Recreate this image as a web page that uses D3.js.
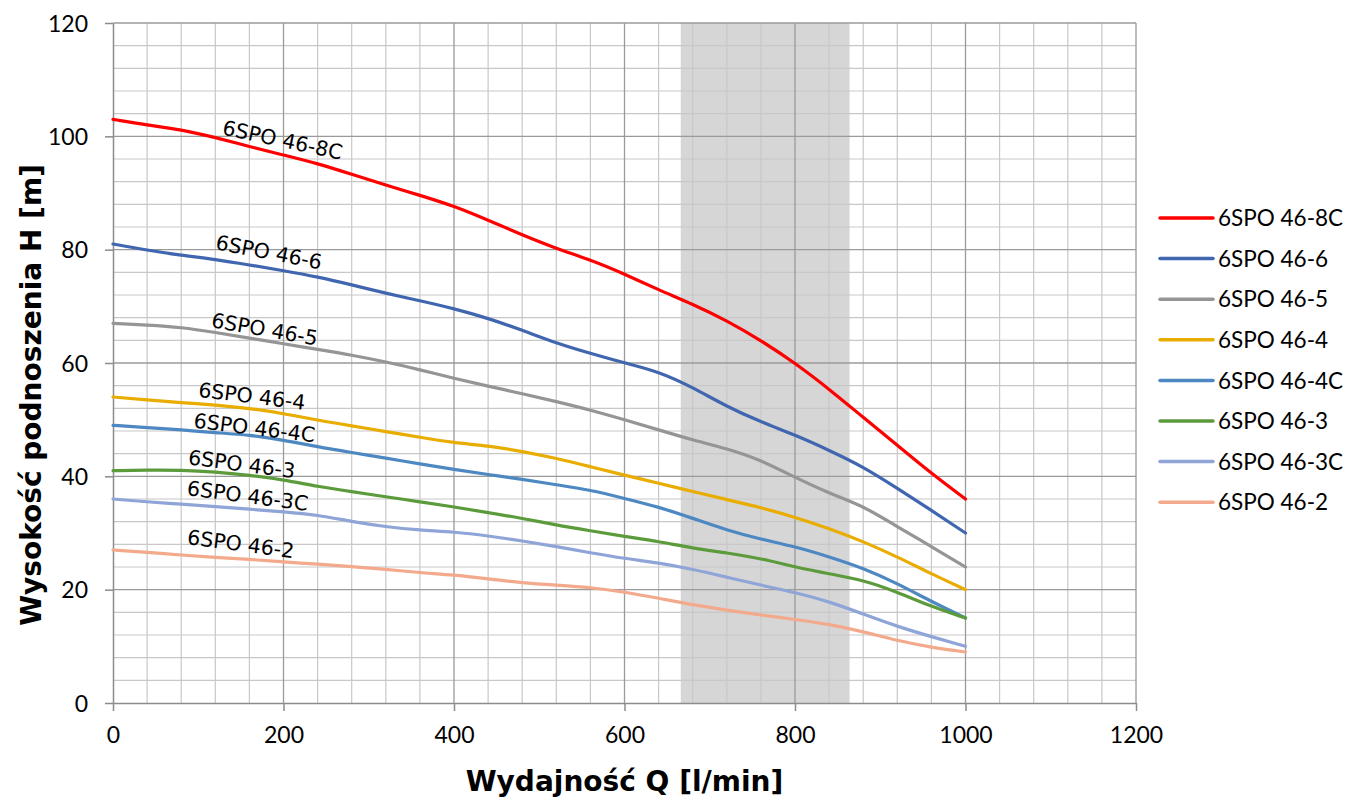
<!DOCTYPE html>
<html>
<head>
<meta charset="utf-8">
<script src="https://cdn.jsdelivr.net/npm/d3@7"></script>
<style>
  body { margin: 0; background: #fff; }
  .tick-label { font-family: Lato, "Liberation Sans", sans-serif; font-size: 23px; fill: #000; }
  .legend text { font-family: Lato, "Liberation Sans", sans-serif; font-size: 22.5px; fill: #000; }
  .curve-label { font-family: "DejaVu Sans", sans-serif; font-size: 20.5px; fill: #000; }
  .axis-title { font-family: "DejaVu Sans", sans-serif; font-weight: bold; font-size: 28px; fill: #000; }
</style>
</head>
<body>
<svg id="chart" width="1347" height="799"></svg>
<script>
// flow points, l/min
var flow = [0, 40, 80, 120, 160, 200, 240, 280, 320, 360, 400, 440, 480,
            520, 560, 600, 640, 680, 720, 760, 800, 840, 880, 920, 960, 1000];

// head values H [m] for each pump, same order as flow
var h_8C = [103, 102, 101.2, 99.8, 98.2, 96.7, 95.2, 93.3, 91.4, 89.6, 87.7, 85.2, 82.6,
            80.2, 78.2, 75.7, 72.9, 70.4, 67.5, 64, 60, 55.4, 50.4, 45.5, 40.5, 36];
var h_6  = [81, 79.9, 79, 78.3, 77.3, 76.3, 75.2, 73.8, 72.3, 71, 69.6, 67.9, 65.8,
            63.5, 61.7, 60, 58.5, 55.7, 52.3, 49.6, 47.3, 44.6, 41.7, 37.9, 34, 30];
var h_5  = [67, 66.7, 66.3, 65.4, 64.4, 63.4, 62.4, 61.4, 60.2, 58.8, 57.3, 55.9, 54.6,
            53.2, 51.7, 50, 48.2, 46.4, 44.9, 42.9, 39.8, 37, 34.8, 31.1, 27.6, 24];
var h_4  = [54, 53.5, 53, 52.6, 52, 51.1, 49.9, 48.9, 47.9, 46.9, 45.9, 45.4, 44.4,
            43.2, 41.7, 40.2, 38.8, 37.3, 35.9, 34.5, 32.8, 30.8, 28.5, 25.8, 22.8, 20];
var h_4C = [49, 48.6, 48.2, 47.7, 47.3, 46.4, 45.2, 44.2, 43.2, 42.2, 41.2, 40.3, 39.5,
            38.5, 37.6, 36.1, 34.6, 32.6, 30.5, 28.9, 27.6, 25.8, 23.8, 21.1, 17.9, 15];
var h_3  = [41, 41.1, 41.1, 40.8, 40.2, 39.4, 38.2, 37.3, 36.4, 35.5, 34.6, 33.6, 32.6,
            31.4, 30.4, 29.4, 28.5, 27.3, 26.5, 25.5, 24, 22.8, 21.7, 19.6, 17, 15];
var h_3C = [36, 35.5, 35.1, 34.65, 34.2, 33.75, 33.2, 32, 31.1, 30.5, 30.2, 29.5, 28.6,
            27.6, 26.5, 25.5, 24.75, 23.6, 22.2, 20.8, 19.5, 17.9, 15.7, 13.5, 11.7, 10];
var h_2  = [27, 26.6, 26.1, 25.7, 25.35, 24.9, 24.5, 24.05, 23.6, 23, 22.6, 21.9, 21.2,
            20.8, 20.4, 19.6, 18.5, 17.3, 16.4, 15.5, 14.75, 13.9, 12.6, 11, 9.8, 9];

var names  = ["6SPO 46-8C", "6SPO 46-6", "6SPO 46-5", "6SPO 46-4",
              "6SPO 46-4C", "6SPO 46-3", "6SPO 46-3C", "6SPO 46-2"];
var heads  = [h_8C, h_6, h_5, h_4, h_4C, h_3, h_3C, h_2];
var colors = ["#ff0000", "#4166b0", "#959595", "#e8ad00",
              "#4d88c2", "#5c9b3b", "#8fa5d8", "#f3a98b"];

// in-chart labels: anchor point (flow, head) and tilt in degrees
var labelQ     = [199, 183, 178, 163, 166, 151, 158, 150];
var labelH     = [99.4, 79.6, 66, 54.2, 48.6, 42.2, 36.6, 28.1];
var labelAngle = [12, 11, 10, 7, 7, 7.5, 7.5, 7.5];

// shaded working range, l/min
var bandRange = [666, 864];

var xTicks = [0, 200, 400, 600, 800, 1000, 1200];
var yTicks = [0, 20, 40, 60, 80, 100, 120];

var margin = {top: 23, left: 113, right: 211, bottom: 96};
var width = 1347 - margin.left - margin.right;
var height = 799 - margin.top - margin.bottom;

var svg = d3.select("#chart");
var g = svg.append("g")
    .attr("transform", "translate(" + margin.left + "," + margin.top + ")");

var x = d3.scaleLinear().domain([0, 1200]).range([0, width]);
var y = d3.scaleLinear().domain([0, 120]).range([height, 0]);

// gray band
g.append("rect")
    .attr("x", x(bandRange[0]))
    .attr("y", 0)
    .attr("width", x(bandRange[1]) - x(bandRange[0]))
    .attr("height", height)
    .attr("fill", "#d6d6d6");

// minor grid: every 40 l/min and every 4 m
var minorX = d3.range(40, 1200, 40).filter(function(d) { return d % 200 != 0; });
var minorY = d3.range(4, 120, 4).filter(function(d) { return d % 20 != 0; });

g.append("g").selectAll("line")
    .data(minorX)
    .enter().append("line")
    .attr("x1", function(d) { return x(d); })
    .attr("x2", function(d) { return x(d); })
    .attr("y1", 0).attr("y2", height)
    .attr("stroke", "#c8c8c8")
    .attr("stroke-width", 1.2);

g.append("g").selectAll("line")
    .data(minorY)
    .enter().append("line")
    .attr("y1", function(d) { return y(d); })
    .attr("y2", function(d) { return y(d); })
    .attr("x1", 0).attr("x2", width)
    .attr("stroke", "#c8c8c8")
    .attr("stroke-width", 1.2);

// major grid
g.append("g").selectAll("line")
    .data(xTicks.slice(1))
    .enter().append("line")
    .attr("x1", function(d) { return x(d); })
    .attr("x2", function(d) { return x(d); })
    .attr("y1", 0).attr("y2", height)
    .attr("stroke", "#9a9a9a")
    .attr("stroke-width", 1.3);

g.append("g").selectAll("line")
    .data(yTicks.slice(1))
    .enter().append("line")
    .attr("y1", function(d) { return y(d); })
    .attr("y2", function(d) { return y(d); })
    .attr("x1", 0).attr("x2", width)
    .attr("stroke", "#9a9a9a")
    .attr("stroke-width", 1.3);

// axes
var xAxis = g.append("g")
    .attr("transform", "translate(0," + height + ")")
    .call(d3.axisBottom(x).tickValues(xTicks).tickFormat(d3.format("d"))
      .tickSize(8).tickPadding(10).tickSizeOuter(0));
var yAxis = g.append("g")
    .call(d3.axisLeft(y).tickValues(yTicks).tickFormat(d3.format("d"))
      .tickSize(8).tickPadding(17).tickSizeOuter(0));

[xAxis, yAxis].forEach(function(a) {
  a.select(".domain").attr("stroke", "#8c8c8c").attr("stroke-width", 1.5);
  a.selectAll(".tick line").attr("stroke", "#8c8c8c").attr("stroke-width", 1.5);
  a.selectAll(".tick text").attr("class", "tick-label");
  a.attr("font-size", null).attr("font-family", null);
});
xAxis.selectAll(".tick text").attr("dy", "0.95em");
yAxis.selectAll(".tick text").attr("dy", "0.36em");

// curves (smoothed like the spreadsheet lines)
var line = d3.line()
    .curve(d3.curveBasis)
    .x(function(d) { return x(d[0]); })
    .y(function(d) { return y(d[1]); });

heads.forEach(function(h, i) {
  g.append("path")
    .datum(flow.map(function(q, j) { return [q, h[j]]; }))
    .attr("fill", "none")
    .attr("stroke", colors[i])
    .attr("stroke-width", 3.2)
    .attr("stroke-linejoin", "round")
    .attr("stroke-linecap", "round")
    .attr("d", line);
});

// curve labels
names.forEach(function(n, i) {
  g.append("text")
    .attr("class", "curve-label")
    .attr("text-anchor", "middle")
    .attr("dy", "0.36em")
    .attr("transform", "translate(" + x(labelQ[i]) + "," + y(labelH[i]) + ") rotate(" + labelAngle[i] + ")")
    .text(n);
});

// axis titles
g.append("text")
    .attr("class", "axis-title")
    .attr("text-anchor", "middle")
    .attr("x", width / 2)
    .attr("y", height + 88)
    .text("Wydajność Q [l/min]");

svg.append("text")
    .attr("class", "axis-title")
    .attr("text-anchor", "middle")
    .attr("transform", "translate(41,395) rotate(-90)")
    .text("Wysokość podnoszenia H [m]");

// legend
var legend = svg.append("g")
    .attr("class", "legend")
    .attr("transform", "translate(1160,218)");

var item = legend.selectAll("g")
    .data(names)
    .enter().append("g")
    .attr("transform", function(d, i) { return "translate(0," + (i * 40.6) + ")"; });

item.append("line")
    .attr("x1", 0).attr("x2", 53)
    .attr("y1", 0).attr("y2", 0)
    .attr("stroke", function(d, i) { return colors[i]; })
    .attr("stroke-width", 3.5)
    .attr("stroke-linecap", "round");

item.append("text")
    .attr("x", 58)
    .attr("dy", "0.36em")
    .text(function(d) { return d; });
</script>
</body>
</html>
